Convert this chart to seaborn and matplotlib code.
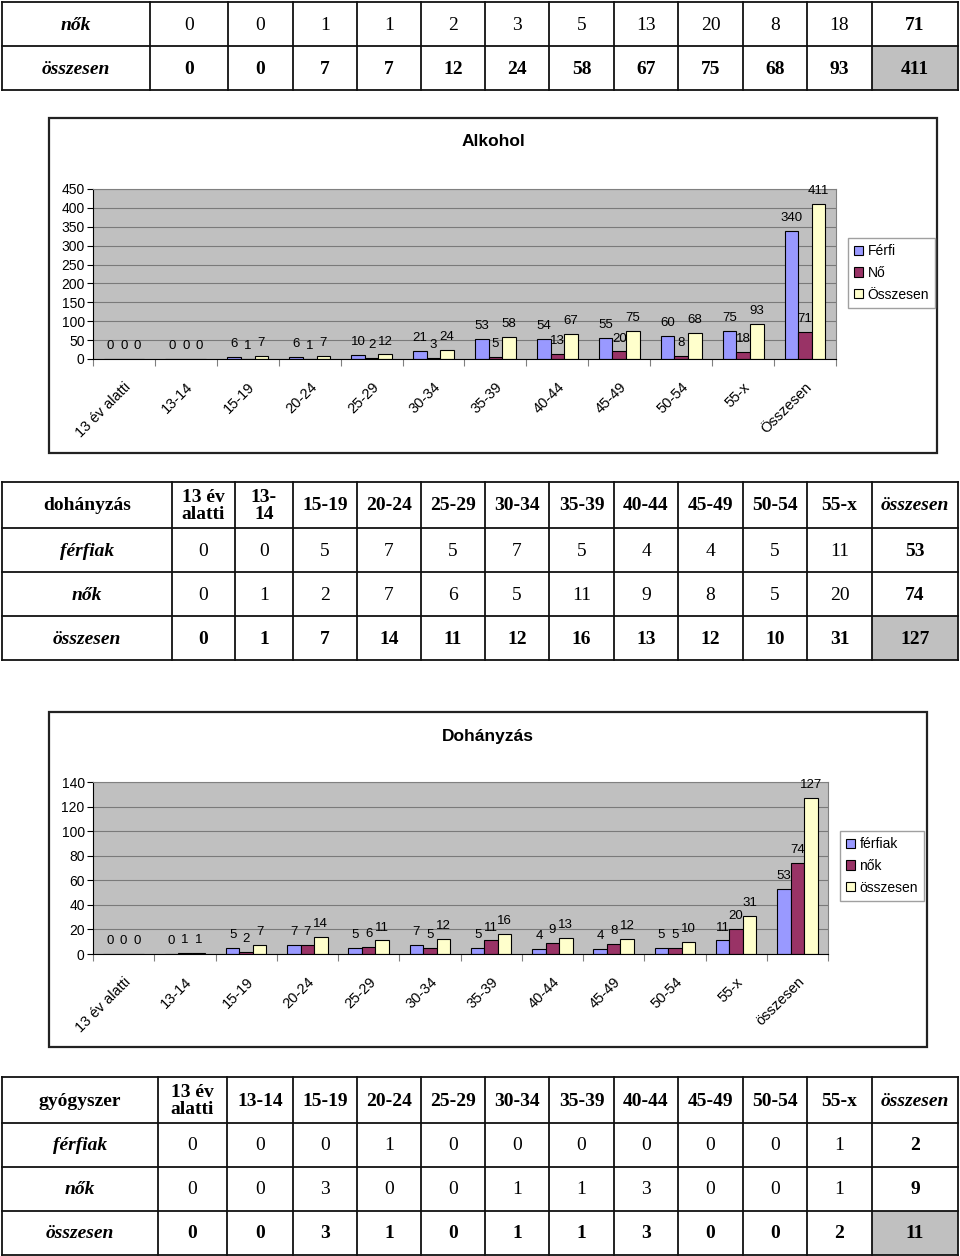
import numpy as np
import pandas as pd
import matplotlib
matplotlib.use("Agg")
import matplotlib.pyplot as plt
import seaborn as sns
from matplotlib.patches import Rectangle
from matplotlib.transforms import ScaledTranslation

# ---------------- data ----------------
age_groups = ["13 év alatti", "13-14", "15-19", "20-24", "25-29", "30-34",
              "35-39", "40-44", "45-49", "50-54", "55-x"]

alc_cats = age_groups + ["Összesen"]
alc_series = ["Férfi", "Nő", "Összesen"]
alc_ferfi = [0, 0, 6, 6, 10, 21, 53, 54, 55, 60, 75, 340]
alc_no = [0, 0, 1, 1, 2, 3, 5, 13, 20, 8, 18, 71]
alc_ossz = [0, 0, 7, 7, 12, 24, 58, 67, 75, 68, 93, 411]

smk_cats = age_groups + ["összesen"]
smk_series = ["férfiak", "nők", "összesen"]
smk_ferfiak = [0, 0, 5, 7, 5, 7, 5, 4, 4, 5, 11, 53]
smk_nok = [0, 1, 2, 7, 6, 5, 11, 9, 8, 5, 20, 74]
smk_ossz = [0, 1, 7, 14, 11, 12, 16, 13, 12, 10, 31, 127]

drug_ferfiak = [0, 0, 0, 1, 0, 0, 0, 0, 0, 0, 1, 2]
drug_nok = [0, 0, 3, 0, 0, 1, 1, 3, 0, 0, 1, 9]
drug_ossz = [0, 0, 3, 1, 0, 1, 1, 3, 0, 0, 2, 11]

age_head_smk = ["13 év\nalatti", "13-\n14", "15-19", "20-24", "25-29", "30-34",
                "35-39", "40-44", "45-49", "50-54", "55-x"]
age_head_drug = ["13 év\nalatti", "13-14", "15-19", "20-24", "25-29", "30-34",
                 "35-39", "40-44", "45-49", "50-54", "55-x"]

colors = ["#9999FF", "#993366", "#FFFFCC"]

# ---------------- figure ----------------
W, H = 960, 1256
fig = plt.figure(figsize=(W / 100, H / 100), dpi=100)
bg = fig.add_axes([0, 0, 1, 1], zorder=-1)
bg.set_xlim(0, W)
bg.set_ylim(H, 0)
bg.axis("off")

SERIF = "Liberation Serif"
SANS = "Liberation Sans"
TFS = 14


def draw_table(x_edges, y_edges, header, rows):
    xl, xr = x_edges[0], x_edges[-1]
    yt, yb = y_edges[0], y_edges[-1]
    r0 = 0
    if header is not None:
        y0, y1 = y_edges[0], y_edges[1]
        ym = (y0 + y1) / 2
        for j, txt in enumerate(header):
            xm = (x_edges[j] + x_edges[j + 1]) / 2
            style = "italic" if j == len(header) - 1 else "normal"
            bg.text(xm, ym + 1, txt, ha="center", va="center", family=SERIF,
                    fontsize=TFS, fontweight="bold", style=style, linespacing=1.05)
        r0 = 1
    for i, (label, vals, total) in enumerate(rows):
        y0, y1 = y_edges[r0 + i], y_edges[r0 + i + 1]
        ym = (y0 + y1) / 2
        cells = [label] + [str(v) for v in vals]
        for j, txt in enumerate(cells):
            x0, x1 = x_edges[j], x_edges[j + 1]
            xm = (x0 + x1) / 2
            if j == 0:
                w, st = "bold", "italic"
            elif total or j == len(cells) - 1:
                w, st = "bold", "normal"
            else:
                w, st = "normal", "normal"
            if total and j == len(cells) - 1:
                bg.add_patch(Rectangle((x0, y0), x1 - x0, y1 - y0,
                                       facecolor="#C0C0C0", edgecolor="none"))
            bg.text(xm, ym + 1, txt, ha="center", va="center", family=SERIF,
                    fontsize=TFS, fontweight=w, style=st)
    for y in y_edges:
        bg.plot([xl, xr], [y, y], color="#111111", lw=1.3, solid_capstyle="projecting")
    for x in x_edges:
        bg.plot([x, x], [yt, yb], color="#111111", lw=1.3, solid_capstyle="projecting")


# Table 1 (partial, alcohol)
x_t1 = [2, 150, 228, 293, 357, 421, 485, 549, 614, 678, 743, 807, 872, 958]
draw_table(x_t1, [2, 46, 90], None,
           [("nők", alc_no, False), ("összesen", alc_ossz, True)])

# Table 2 (smoking)
x_t2 = [2, 172, 235, 293, 357, 421, 485, 549, 614, 678, 743, 807, 872, 958]
draw_table(x_t2, [482, 528, 572, 616, 660],
           ["dohányzás"] + age_head_smk + ["összesen"],
           [("férfiak", smk_ferfiak, False), ("nők", smk_nok, False),
            ("összesen", smk_ossz, True)])

# Table 3 (drugs)
x_t3 = [2, 158, 227, 293, 357, 421, 485, 549, 614, 678, 743, 807, 872, 958]
draw_table(x_t3, [1077, 1123, 1167, 1211, 1255],
           ["gyógyszer"] + age_head_drug + ["összesen"],
           [("férfiak", drug_ferfiak, False), ("nők", drug_nok, False),
            ("összesen", drug_ossz, True)])


def fig_rect(x0, y0, x1, y1):
    return [x0 / W, 1 - y1 / H, (x1 - x0) / W, (y1 - y0) / H]


def draw_chart(plot_px, frame_px, cats, names, vals, ymax, ystep, title,
               title_xy, legend_xy):
    fx0, fy0, fx1, fy1 = frame_px
    bg.add_patch(Rectangle((fx0, fy0), fx1 - fx0, fy1 - fy0, facecolor="white",
                           edgecolor="#222222", lw=1.6, zorder=0.5))
    bg.text(title_xy[0], title_xy[1], title, ha="center", va="center",
            family=SANS, fontsize=12.5, fontweight="bold")

    ax = fig.add_axes(fig_rect(*plot_px))
    ax.set_facecolor("#C0C0C0")
    df = pd.DataFrame({
        "cat": cats * len(names),
        "series": [n for n in names for _ in cats],
        "val": [v for s in vals for v in s],
    })
    sns.barplot(data=df, x="cat", y="val", hue="series", order=cats,
                hue_order=names, palette=dict(zip(names, colors)),
                width=0.66, saturation=1, edgecolor="black", linewidth=0.8,
                errorbar=None, ax=ax)
    for c in ax.containers:
        ax.bar_label(c, padding=5, fontsize=9.5, family=SANS)
    ax.set_xlim(-0.5, len(cats) - 0.5)
    ax.set_ylim(0, ymax)
    ax.set_yticks(np.arange(0, ymax + 1, ystep))
    ax.yaxis.grid(True, color="#7a7a7a", lw=0.8)
    ax.set_axisbelow(True)
    ax.set_xlabel("")
    ax.set_ylabel("")
    ax.set_xticks(range(len(cats)))
    ax.set_xticklabels(cats, rotation=45, ha="right", rotation_mode="anchor",
                       family=SANS, fontsize=10.5)
    shift = ScaledTranslation(-6 / 100, 0, fig.dpi_scale_trans)
    for lab in ax.get_xticklabels():
        lab.set_transform(lab.get_transform() + shift)
    ax.tick_params(axis="x", which="major", length=0, pad=15)
    ax.set_xticks(np.arange(-0.5, len(cats), 1), minor=True)
    ax.tick_params(axis="x", which="minor", length=5, color="#808080", width=0.8)
    ax.tick_params(axis="y", length=4, width=0.8, labelsize=10, pad=2)
    for lab in ax.get_yticklabels():
        lab.set_family(SANS)
    for s in ["top", "right"]:
        ax.spines[s].set_color("#808080")
        ax.spines[s].set_linewidth(0.8)
    for s in ["left", "bottom"]:
        ax.spines[s].set_color("#000000")
        ax.spines[s].set_linewidth(0.8)
    handles, labels = ax.get_legend_handles_labels()
    ax.legend(handles, labels, loc="upper left",
              bbox_to_anchor=(legend_xy[0] / W, 1 - legend_xy[1] / H),
              bbox_transform=fig.transFigure, frameon=True, fancybox=False,
              edgecolor="#A0A0A0", framealpha=1, handlelength=0.65,
              handleheight=0.65, handletextpad=0.3, labelspacing=0.55,
              borderpad=0.45, borderaxespad=0,
              prop={"family": SANS, "size": 10}, title=None)
    return ax


draw_chart((93, 189, 836, 359), (49, 118, 937, 453), alc_cats, alc_series,
           [alc_ferfi, alc_no, alc_ossz], 450, 50, "Alkohol", (493, 142),
           (848, 238))
draw_chart((93, 782, 828, 954), (49, 712, 927, 1047), smk_cats, smk_series,
           [smk_ferfiak, smk_nok, smk_ossz], 140, 20, "Dohányzás", (488, 736),
           (840, 831))

fig.savefig("out.png", dpi=100)
